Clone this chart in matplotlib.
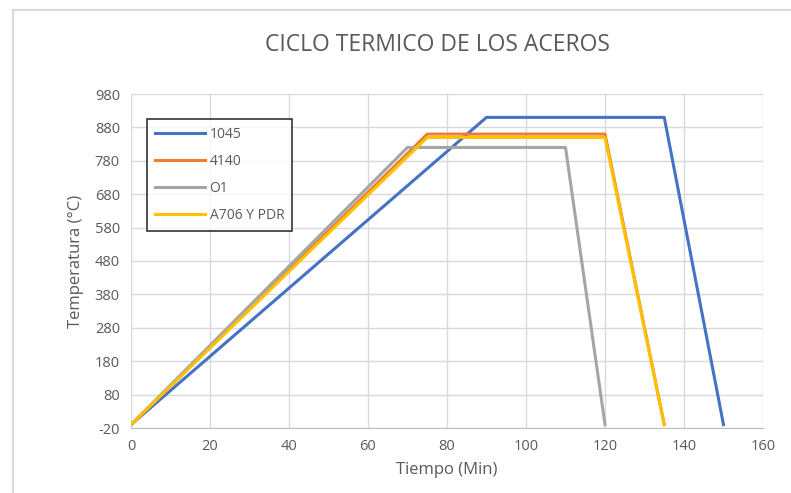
import matplotlib.pyplot as plt
from matplotlib.lines import Line2D

plt.rcParams['font.family'] = ['Open Sans', 'DejaVu Sans']
plt.rcParams['axes.unicode_minus'] = False

# Data (tiempo en min, temperatura en °C)
t_1045 = [0, 90, 135, 150]
T_1045 = [-10, 910, 910, -10]
t_4140 = [0, 75, 120, 135]
T_4140 = [-10, 860, 860, -10]
t_o1 = [0, 70, 110, 120]
T_o1 = [-10, 820, 820, -10]
t_a706 = [0, 75, 120, 135]
T_a706 = [-10, 850, 850, -10]

labels = ['1045', '4140', 'O1', 'A706 Y PDR']
colors = ['#4472C4', '#ED7D31', '#A5A5A5', '#FFC000']

W, H = 791, 493
fig = plt.figure(figsize=(W / 100, H / 100), dpi=100)
ax = fig.add_axes([131 / W, (H - 428) / H, 632 / W, 334 / H])

ax.plot(t_1045, T_1045, color=colors[0], lw=2.2, label=labels[0])
ax.plot(t_4140, T_4140, color=colors[1], lw=2.2, label=labels[1])
ax.plot(t_o1, T_o1, color=colors[2], lw=2.2, label=labels[2])
ax.plot(t_a706, T_a706, color=colors[3], lw=2.2, label=labels[3])

ax.set_xlim(0, 160)
ax.set_ylim(-20, 980)
ax.set_xticks(range(0, 161, 20))
ax.set_yticks(range(-20, 981, 100))
ax.grid(True, color='#D9D9D9', lw=1)
ax.set_axisbelow(True)
for s in ['top', 'right', 'left']:
    ax.spines[s].set_visible(False)
ax.spines['bottom'].set_color('#BFBFBF')
ax.tick_params(length=0, labelsize=10.5, colors='#595959', pad=8)

ax.set_xlabel('Tiempo (Min)', fontsize=12, color='#595959', labelpad=6)
ax.set_ylabel('Temperatura (°C)', fontsize=12, color='#595959', labelpad=8)
fig.text(437 / W, 1 - 45 / H, 'CICLO TERMICO DE LOS ACEROS', ha='center', va='center',
         fontsize=16.5, color='#595959')

leg = ax.legend(loc='upper left', bbox_to_anchor=(147 / W, 1 - 119 / H),
                bbox_transform=fig.transFigure, frameon=True, fancybox=False,
                fontsize=10, handlelength=3.6, labelspacing=0.85, borderpad=0.6,
                handletextpad=0.3, borderaxespad=0)
leg.get_frame().set_edgecolor('black')
leg.get_frame().set_linewidth(1.2)
for t in leg.get_texts():
    t.set_color('#595959')

# chart border (top and left visible)
fig.add_artist(Line2D([13 / W, 1], [1 - 10 / H, 1 - 10 / H], color='#D9D9D9', lw=1.5,
                      transform=fig.transFigure))
fig.add_artist(Line2D([13 / W, 13 / W], [0, 1 - 10 / H], color='#D9D9D9', lw=1.5,
                      transform=fig.transFigure))

fig.savefig('out.png', dpi=100)
